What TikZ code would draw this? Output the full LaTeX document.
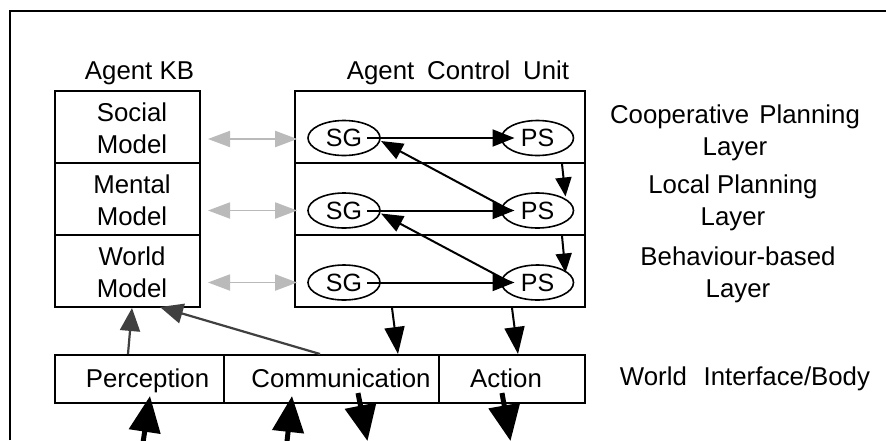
\documentclass[tikz,border=0pt]{standalone}
\usepackage{fontspec}
\setmainfont{Liberation Sans}
\usetikzlibrary{arrows.meta,calc,shapes.geometric}
\begin{document}
\begin{tikzpicture}[x=1pt,y=-1pt,
  kbcell/.style={draw,line width=2pt,minimum width=145pt,minimum height=72pt,inner sep=0pt},
  cucell/.style={draw,line width=2pt,minimum width=290pt,minimum height=72pt,inner sep=0pt},
  barcell/.style={draw,line width=2pt,minimum height=48pt,inner sep=0pt},
  lbl/.style={font=\fontsize{25.8}{32}\selectfont,align=center,inner sep=0pt},
  ell/.style={ellipse,draw,line width=1.6pt,minimum width=72pt,minimum height=35pt,inner sep=0pt,font=\fontsize{25}{28}\selectfont},
  blk/.style={line width=2pt,-{Triangle[length=22pt,width=17pt]}},
  vblk/.style={line width=2pt,-{Triangle[length=19pt,width=16pt]}},
  dblk/.style={line width=2pt,-{Triangle[length=27pt,width=20pt]}},
  dgry/.style={line width=2.2pt,draw=black!75,-{Triangle[length=23pt,width=20pt]}},
  lgry/.style={line width=1.8pt,draw=black!27,{Triangle[length=22pt,width=16pt]}-{Triangle[length=22pt,width=16pt]}},
  big/.style={line width=5pt,-{Triangle[length=36pt,width=31pt]}}
]
\useasboundingbox (0,0) rectangle (886,440);
\fill[white] (0,0) rectangle (886,440);
% outer frame
\draw[line width=2pt] (10,440) -- (10,11) -- (886,11);

% headings
\node[lbl,anchor=base] (kbhead) at (139.5,79) {Agent KB};
\node[lbl,anchor=base] (cuhead) at (458,79) {Agent\hspace{0.5em}Control\hspace{0.5em}Unit};

% Agent KB cells
\node[kbcell] (social) at (127.5,127) {};
\node[kbcell] (mental) at (127.5,199) {};
\node[kbcell] (world) at (127.5,271) {};
\node[lbl] (social-t) at (132,128.7) {Social\\Model};
\node[lbl] (mental-t) at (132,200.7) {Mental\\Model};
\node[lbl] (world-t) at (132,272.7) {World\\Model};

% Control unit layers
\node[cucell] (coop) at (440,127) {};
\node[cucell] (local) at (440,199) {};
\node[cucell] (beh) at (440,271) {};

% ellipses
\node[ell] (sg1) at (344,138) {SG};
\node[ell] (ps1) at (537.5,138) {PS};
\node[ell] (sg2) at (344,210.5) {SG};
\node[ell] (ps2) at (537.5,210.5) {PS};
\node[ell] (sg3) at (344,282.5) {SG};
\node[ell] (ps3) at (537.5,282.5) {PS};

% layer labels
\node[lbl] (coop-t) at (735,132.4) {Cooperative\hspace{0.4em}Planning\\Layer};
\node[lbl] (local-t) at (733,202.4) {Local Planning\\Layer};
\node[lbl] (beh-t) at (738,274.4) {Behaviour-based\\Layer};

% world interface bar
\node[barcell,minimum width=169pt] (perc) at (139.5,379) {};
\node[barcell,minimum width=215pt] (comm) at (331.5,379) {};
\node[barcell,minimum width=146pt] (act) at (512,379) {};
\node[lbl,anchor=base] (perc-t) at (147.5,387) {Perception};
\node[lbl,anchor=base] (comm-t) at (341,387) {Communication};
\node[lbl,anchor=base] (act-t) at (506,387) {Action};
\node[lbl,anchor=base] (wib-t) at (745,385) {World\hspace{0.65em}Interface/Body};

% SG -> PS
\draw[blk] ($(sg1.center)+(23,0)$) -- ($(ps1.center)+(-23,0)$);
\draw[blk] ($(sg2.center)+(23,0)$) -- ($(ps2.center)+(-23,0)$);
\draw[blk] ($(sg3.center)+(23,0)$) -- ($(ps3.center)+(-23,0)$);
% PS -> SG of upper layer
\draw[blk] ($(ps2.center)+(-27,0)$) -- ($(sg1.center)+(37,3)$);
\draw[blk] ($(ps3.center)+(-27,0)$) -- ($(sg2.center)+(37,3)$);
% downward commitments
\draw[vblk] ($(coop.south east)+(-24,0)$) -- ($(ps2.center)+(28,-14)$);
\draw[vblk] ($(local.south east)+(-24,0)$) -- ($(ps3.center)+(28,-10)$);

% KB <-> control unit
\draw[lgry] ($(social.east)+(7,12)$) -- ($(sg1.west)+(-10,1)$);
\draw[lgry] ($(mental.east)+(7,11.5)$) -- ($(sg2.west)+(-10,0)$);
\draw[lgry] ($(world.east)+(7,11.5)$) -- ($(sg3.west)+(-10,0)$);

% control unit -> body
\draw[dblk] ($(beh.south)+(-48,0)$) -- ($(comm.north)+(66.5,0)$);
\draw[dblk] ($(beh.south)+(72,0)$) -- ($(act.north)+(6,0)$);

% body -> world model
\draw[dgry] ($(perc.north)+(-11.5,0)$) -- ($(world.south)+(4.5,0)$);
\draw[dgry] ($(comm.north)+(-11.5,0)$) -- ($(world.south)+(32.5,-1)$);

% environment arrows
\coordinate (pin) at (142.5,446);
\coordinate (cin) at (286.5,446);
\coordinate (cout) at (367.5,441);
\coordinate (aout) at (510.5,441);
\draw[big] (pin) -- ($(perc.south)+(10.5,-8)$);
\draw[big] (cin) -- ($(comm.south)+(-39.5,-8)$);
\draw[big] ($(comm.south)+(26.5,-11)$) -- (cout);
\draw[big] ($(act.south)+(-10,-11)$) -- (aout);
\end{tikzpicture}
\end{document}
